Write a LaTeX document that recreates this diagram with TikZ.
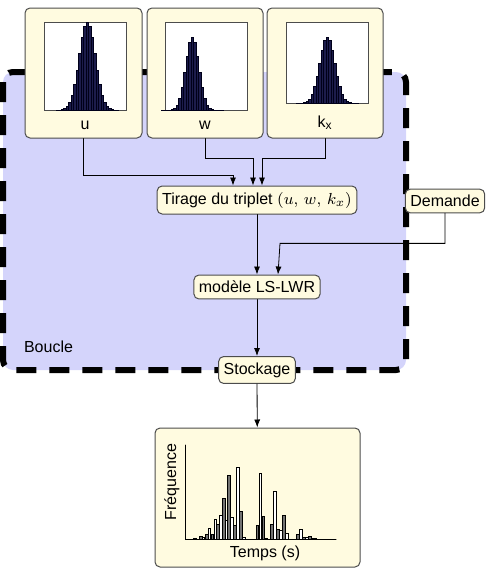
\documentclass[tikz,border=0pt]{standalone}
\usepackage{fontspec}
\setmainfont{Liberation Sans}
\usetikzlibrary{calc,arrows.meta}

\begin{document}
\begin{tikzpicture}[x=0.5pt, y=-0.5pt, font=\fontsize{8}{9.5}\selectfont, line cap=round,
  bloc/.style={draw=black!70, fill=boxCream, rounded corners=2.5pt, line width=0.5pt,
    inner xsep=2.5pt, inner ysep=3pt},
  fleche/.style={-{Latex[length=4pt,width=3pt]}, line width=0.4pt}]
  \definecolor{boxCream}{HTML}{FFFBE0}
  \definecolor{loopLavender}{HTML}{D4D4FB}
  \definecolor{barNavy}{HTML}{1C1C4C}
  \useasboundingbox (0,0) rectangle (490,573);

  % boucle
  \draw[fill=loopLavender, line width=3pt, dash pattern=on 10pt off 6.5pt, rounded corners=5pt, line cap=butt]
    (3,72) rectangle (406,370);
  \node[anchor=west] (boucle) at (17,347) {Boucle};

  % distributions
  \node[bloc, minimum width=58.5pt, minimum height=65pt] (u) at (83.5,73) {};
  \node[bloc, minimum width=58pt, minimum height=65pt] (w) at (205,73) {};
  \node[bloc, minimum width=58pt, minimum height=65pt] (kx) at (325,73) {};
  \foreach \left/\bottom/\mu/\sig/\hgt in {
    44/110/87/8/88,
    165/110/192/6.5/73,
    286/103/327/7.5/66}{
    \draw[black!70, fill=white, line width=0.4pt] (\left,22) rectangle (\left+82,\bottom);
    \foreach \i in {-12,...,12}{
      \pgfmathsetmacro\h{\hgt*exp(-((\i*2.5)^2)/(2*\sig*\sig))}
      \path[fill=barNavy, draw=black!90!blue, line width=0.15pt]
        (\mu+\i*2.5-1.25,\bottom) rectangle (\mu+\i*2.5+1.25,\bottom-\h);
    }
  }
  \node (uLab) at (85,125) {u};
  \node (wLab) at (205,125) {w};
  \node (kxLab) at (325,123) {k\textsubscript{x}};

  % chaine principale
  \node[bloc] (tirage) at (257,200) {Tirage du triplet $(u,\,w,\,k_x)$};
  \node[bloc] (demande) at (445,201) {Demande};
  \node[bloc] (modele) at (257,287) {modèle LS-LWR};
  \node[bloc] (stockage) at (257,370) {Stockage};
  \node[bloc, minimum width=102.5pt, minimum height=69.5pt] (freq) at (257.5,497.5) {};

  \draw[fleche] (u.south) -- ++(0,37) -| ($(tirage.north)+(-24,0)$);
  \draw[fleche] (w.south) -- ++(0,20) -| ($(tirage.north)+(-4,0)$);
  \draw[fleche] (kx.south) -- ++(0,20) -| ($(tirage.north)+(5,0)$);
  \draw[fleche] (tirage) -- (modele);
  \draw[fleche] (demande.south) -- ++(0,30) -- ++(-165,0) -- ($(modele.north)+(21,0)$);
  \draw[fleche] (modele) -- (stockage);
  \draw[fleche] (stockage) -- (freq);

  % histogramme des temps
  \coordinate (origine) at (185,539);
  \foreach \dx/\h [count=\k] in {
    10/1, 15.7/2.7, 18.3/2, 21.7/4.3, 24.3/11, 27.3/4.3, 30.3/19.3, 33/14.3,
    35.7/23.3, 38.7/41, 41.3/18.3, 44/63.3, 47/22, 50/13.3, 52.7/71.7, 55.7/27.3,
    58.7/1.7, 72.3/13.3, 75.3/66, 78.3/22.7, 81.3/1, 87/14.3, 90/47.3, 93/9.3,
    95.7/8.3, 98.7/24, 101.7/5.3, 113/4.3, 116/10, 119/1.7, 121.7/1.3, 124.7/3,
    127.3/1, 130/0.7}{
    \pgfmathsetmacro\shade{mod(\k,2)==0 ? 55 : 0}
    \path[draw=black, fill=black!\shade, line width=0.4pt]
      ($(origine)+(\dx-1.3,0)$) rectangle ($(origine)+(\dx+1.3,-\h)$);
  }
  \draw[line width=0.5pt] (185,445) -- (origine) -- (336,539);
  \node[rotate=90] (frequence) at (172,482) {Fréquence};
  \node (temps) at (265,553) {Temps (s)};
\end{tikzpicture}
\end{document}
